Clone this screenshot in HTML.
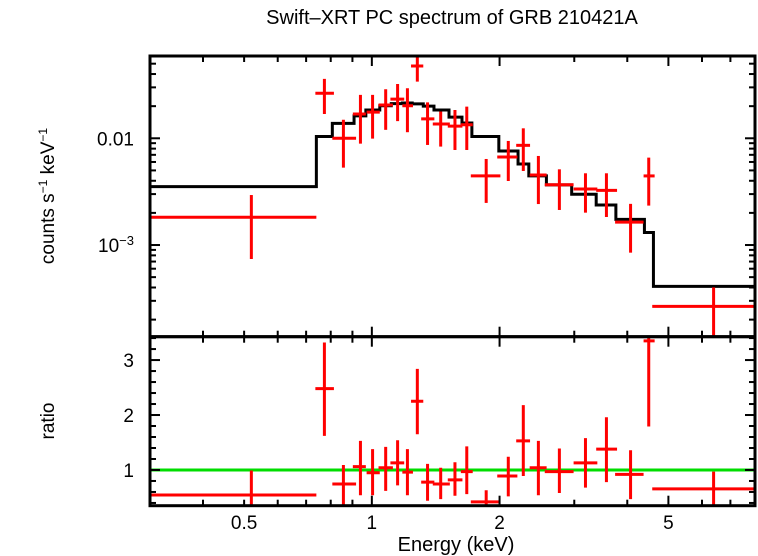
<!DOCTYPE html>
<html><head><meta charset="utf-8"><style>
html,body{margin:0;padding:0;background:#fff;}
svg{display:block;font-family:"Liberation Sans",sans-serif;}
</style></head><body>
<svg id="chart" width="758" height="556" viewBox="0 0 758 556">
<text x="452" y="24" text-anchor="middle" font-size="20">Swift–XRT PC spectrum of GRB 210421A</text>
<text transform="translate(54,196) rotate(-90)" text-anchor="middle" font-size="19">counts s<tspan font-size="12" dy="-7">−1</tspan><tspan dy="7"> keV</tspan><tspan font-size="12" dy="-7">−1</tspan></text>
<text transform="translate(54,421) rotate(-90)" text-anchor="middle" font-size="19">ratio</text>
<text x="456" y="551" text-anchor="middle" font-size="20">Energy (keV)</text>
<g id="plots"></g>
</svg>
<script>
// Data points: energy bin lo/hi/center, flux and errors
const eLo=[0.301,0.736,0.807,0.902,0.972,1.037,1.106,1.180,1.237,1.307,1.392,1.510,1.621,1.711,1.975,2.189,2.355,2.556,2.989,3.379,3.744,4.370,4.58];
const eHi=[0.740,0.814,0.918,0.968,1.044,1.121,1.192,1.250,1.322,1.404,1.527,1.635,1.729,2.009,2.203,2.360,2.582,2.989,3.400,3.784,4.370,4.640,8.0];
const eMid=[0.520,0.773,0.857,0.940,1.004,1.078,1.150,1.213,1.280,1.353,1.453,1.570,1.674,1.860,2.097,2.275,2.469,2.767,3.188,3.572,4.072,4.494,6.39];
const flux=[1.82e-3,0.0264,0.0100,0.0169,0.0176,0.0205,0.0233,0.0202,0.0476,0.0152,0.0136,0.0130,0.0134,4.44e-3,6.68e-3,8.59e-3,4.53e-3,3.67e-3,3.35e-3,3.25e-3,1.64e-3,4.44e-3,2.66e-4];
const fluxHi=[2.94e-3,0.0360,0.0149,0.0255,0.0255,0.0288,0.0323,0.0294,0.0604,0.0217,0.0178,0.0184,0.0198,6.40e-3,9.44e-3,0.0124,6.83e-3,5.12e-3,4.70e-3,4.70e-3,2.43e-3,6.59e-3,4.01e-4];
const fluxLo=[7.40e-4,0.0169,5.31e-3,8.91e-3,9.93e-3,0.0120,0.0145,0.0114,0.0340,8.66e-3,8.36e-3,7.77e-3,7.77e-3,2.48e-3,3.98e-3,4.94e-3,2.42e-3,2.13e-3,2.01e-3,1.83e-3,8.48e-4,2.34e-3,1e-5];
const ratio=[0.545,2.48,0.745,1.06,0.95,1.04,1.13,0.96,2.25,0.78,0.745,0.82,0.97,0.42,0.89,1.53,1.04,0.97,1.13,1.38,0.92,3.35,0.655];
const ratioHi=[0.99,3.32,1.09,1.53,1.38,1.42,1.54,1.38,2.84,1.11,1.04,1.14,1.43,0.63,1.24,2.18,1.53,1.39,1.58,1.96,1.36,3.6,0.97];
const ratioLo=[0.2,1.62,0.2,0.54,0.54,0.62,0.72,0.54,1.65,0.44,0.47,0.53,0.56,0.2,0.52,0.89,0.54,0.58,0.68,0.78,0.47,1.79,0.2];
// Model step function
const modelEdges=[0.301,0.740,0.807,0.908,0.968,1.044,1.111,1.180,1.245,1.322,1.401,1.520,1.631,1.721,1.992,2.211,2.344,2.579,2.958,3.379,3.76,4.39,4.61,8.0];
const modelVals=[3.52e-3,0.0104,0.0138,0.0162,0.0184,0.0202,0.0211,0.0214,0.0210,0.0200,0.0184,0.0158,0.0139,0.0104,7.60e-3,5.74e-3,4.44e-3,3.66e-3,2.99e-3,2.37e-3,1.74e-3,1.31e-3,4.10e-4];
const xTickMajor=[1,2,5];
const xTickMinor=[0.4,0.5,0.6,0.7,0.8,0.9,3,4,6,7,8];
const xTickLabels=[0.5,1,2,5];
const ratioTicks=[0.4,0.6,0.8,1,1.2,1.4,1.6,1.8,2,2.2,2.4,2.6,2.8,3,3.2,3.4];
const ratioLabels=[1,2,3];

const L=150,R=755,T1=56,B1=336.7,B2=505.7;
const xMin=0.3,xMax=8.0;
const X=e=>L+(Math.log10(e)-Math.log10(xMin))/(Math.log10(xMax)-Math.log10(xMin))*(R-L);
const yTopMax=-1.229,yTopMin=-3.859;
const Y1=v=>T1+(yTopMax-Math.log10(Math.max(v,1e-6)))/(yTopMax-yTopMin)*(B1-T1);
const rMax=3.425,rMin=0.35;
const Y2=v=>B1+(rMax-v)/(rMax-rMin)*(B2-B1);
const NS='http://www.w3.org/2000/svg';
const g=document.getElementById('plots');
function mk(tag,attrs,parent){const el=document.createElementNS(NS,tag);for(const k in attrs)el.setAttribute(k,attrs[k]);(parent||g).appendChild(el);return el;}
function line(x1,y1,x2,y2,c,w,p){return mk('line',{x1,y1,x2,y2,stroke:c,'stroke-width':w},p);}

const defs=mk('defs',{});
const c1=mk('clipPath',{id:'c1'},defs);mk('rect',{x:L,y:T1,width:R-L,height:B1-T1},c1);
const c2=mk('clipPath',{id:'c2'},defs);mk('rect',{x:L,y:B1,width:R-L,height:B2-B1},c2);
const gTop=mk('g',{'clip-path':'url(#c1)'});


const gBot=mk('g',{'clip-path':'url(#c2)'});



let d='M'+X(modelEdges[0])+','+Y1(modelVals[0]);
for(let i=0;i<modelVals.length;i++){d+=' L'+X(modelEdges[i+1])+','+Y1(modelVals[i]);if(i+1<modelVals.length)d+=' L'+X(modelEdges[i+1])+','+Y1(modelVals[i+1]);}
const mp=mk('path',{d,fill:'none',stroke:'#000','stroke-width':3},gTop);



const gl=line(L,Y2(1),R,Y2(1),'#00dd00',3,gBot);



for(let i=0;i<eMid.length;i++){
  const a=mk('g',{},gTop);
  
  
  line(X(eLo[i]),Y1(flux[i]),X(eHi[i]),Y1(flux[i]),'#ff0000',3,a);
  line(X(eMid[i]),Y1(fluxHi[i]),X(eMid[i]),Y1(fluxLo[i]),'#ff0000',3,a);
  const b=mk('g',{},gBot);
  
  
  line(X(eLo[i]),Y2(ratio[i]),X(eHi[i]),Y2(ratio[i]),'#ff0000',3,b);
  line(X(eMid[i]),Y2(ratioHi[i]),X(eMid[i]),Y2(ratioLo[i]),'#ff0000',3,b);
}

const ax=mk('g',{});


xTickMajor.forEach(v=>{const x=X(v);[[T1,1],[B1,-1],[B1,1],[B2,-1]].forEach(([y,s])=>line(x,y,x,y+s*10,'#000',2,ax));});
xTickMinor.forEach(v=>{const x=X(v);[[T1,1],[B1,-1],[B1,1],[B2,-1]].forEach(([y,s])=>line(x,y,x,y+s*6,'#000',2,ax));});
for(let dec=-4;dec<=-1;dec++){for(let m=1;m<=9;m++){const v=m*Math.pow(10,dec);const lv=Math.log10(v);if(lv>yTopMax||lv<yTopMin)continue;const y=Y1(v);const len=m===1?10:6;line(L,y,L+len,y,'#000',2,ax);line(R,y,R-len,y,'#000',2,ax);}}
ratioTicks.forEach(v=>{const y=Y2(v);const len=Number.isInteger(v)?10:6;line(L,y,L+len,y,'#000',2,ax);line(R,y,R-len,y,'#000',2,ax);});
mk('rect',{x:L,y:T1,width:R-L,height:B1-T1,fill:'none',stroke:'#000','stroke-width':3},ax);
mk('rect',{x:L,y:B1,width:R-L,height:B2-B1,fill:'none',stroke:'#000','stroke-width':3},ax);

xTickLabels.forEach(v=>{const t=mk('text',{x:X(v),y:529,'text-anchor':'middle','font-size':19});t.textContent=String(v);

});
ratioLabels.forEach(v=>{const t=mk('text',{x:134,y:Y2(v)+7,'text-anchor':'end','font-size':19});t.textContent=String(v);

});
const t1=mk('text',{x:134,y:Y1(0.01)+7,'text-anchor':'end','font-size':19});t1.textContent='0.01';


const t2=mk('text',{x:134,y:Y1(0.001)+7,'text-anchor':'end','font-size':19});


t2.innerHTML='10<tspan font-size="13" dy="-7">−3</tspan>';
</script>
</body></html>
